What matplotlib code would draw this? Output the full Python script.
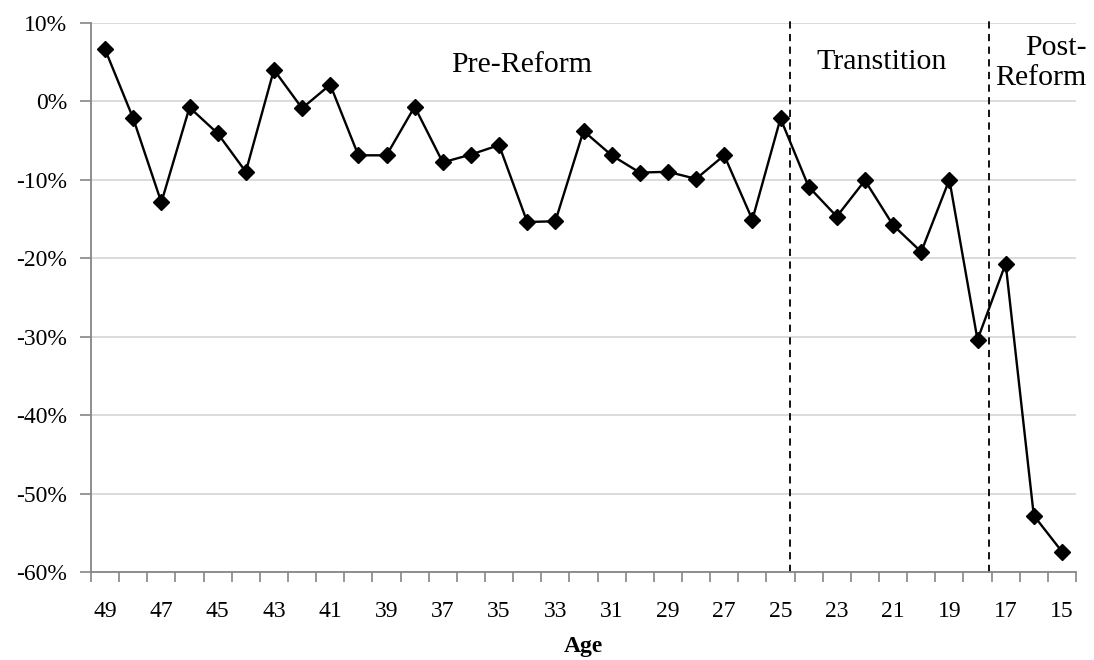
import matplotlib
matplotlib.use("Agg")
import matplotlib.pyplot as plt
from matplotlib.ticker import FixedLocator, FuncFormatter

plt.rcParams['font.family'] = ['Liberation Serif', 'DejaVu Serif']

# data
ages = list(range(49, 14, -1))
values = [6.6, -2.2, -12.9, -0.8, -4.1, -9.0, 4.0, -0.9, 2.1, -6.9, -6.9, -0.7,
          -7.8, -6.8, -5.6, -15.4, -15.3, -3.8, -6.9, -9.1, -9.0, -9.9, -6.9, -15.1,
          -2.2, -10.9, -14.7, -10.1, -15.8, -19.2, -10.0, -30.4, -20.7, -52.8, -57.4]
period_breaks = [24.35, 31.42]  # index positions of the dashed separators
period_labels = ["Pre-Reform", "Transtition", "Post-\nReform"]
y_ticks = [10, 0, -10, -20, -30, -40, -50, -60]

fig = plt.figure(figsize=(10.94, 6.6), dpi=100)
ax = fig.add_axes([91 / 1094, 1 - 572 / 660, 985 / 1094, (572 - 22.7) / 660])

x = list(range(len(ages)))
ax.plot(x, values, color="black", lw=1.7, marker="D", ms=8.5, zorder=3)

for b in period_breaks:
    ax.plot([b, b], [-60, 10.4], color="black", lw=1.3, ls=(0, (4, 3)),
            clip_on=False, zorder=2)

ax.set_xlim(-0.5, len(ages) - 0.5)
ax.set_ylim(-60, 10)

ax.set_yticks(y_ticks)
ax.yaxis.set_major_formatter(FuncFormatter(lambda v, p: f"{v:.0f}%"))
ax.grid(axis="y", color="#d9d9d9", lw=1.3, zorder=0)
ax.set_axisbelow(True)

ax.set_xticks(x[::2])
ax.set_xticklabels([str(a) for a in ages[::2]])
ax.xaxis.set_minor_locator(FixedLocator([i - 0.5 for i in range(len(ages) + 1)]))
ax.tick_params(axis="x", which="major", length=0, pad=21, labelsize=17)
ax.tick_params(axis="x", which="minor", length=7, color="#868686", width=1.2)
ax.tick_params(axis="y", which="major", length=8, color="#868686", width=1.2,
               labelsize=17, pad=9)

for s in ["top", "right"]:
    ax.spines[s].set_visible(False)
for s in ["left", "bottom"]:
    ax.spines[s].set_color("#868686")
    ax.spines[s].set_linewidth(1.3)

ax.set_xlabel("Age", fontsize=17, fontweight="bold", labelpad=10)

ax.text(14.8, 4.6, period_labels[0], fontsize=21.5, ha="center", va="center")
ax.text(27.6, 5.0, period_labels[1], fontsize=21.5, ha="center", va="center")
ax.text(33.25, 4.9, period_labels[2], fontsize=21.5, ha="center", va="center",
        multialignment="right", linespacing=1.2)

fig.savefig("out.png", dpi=100)
